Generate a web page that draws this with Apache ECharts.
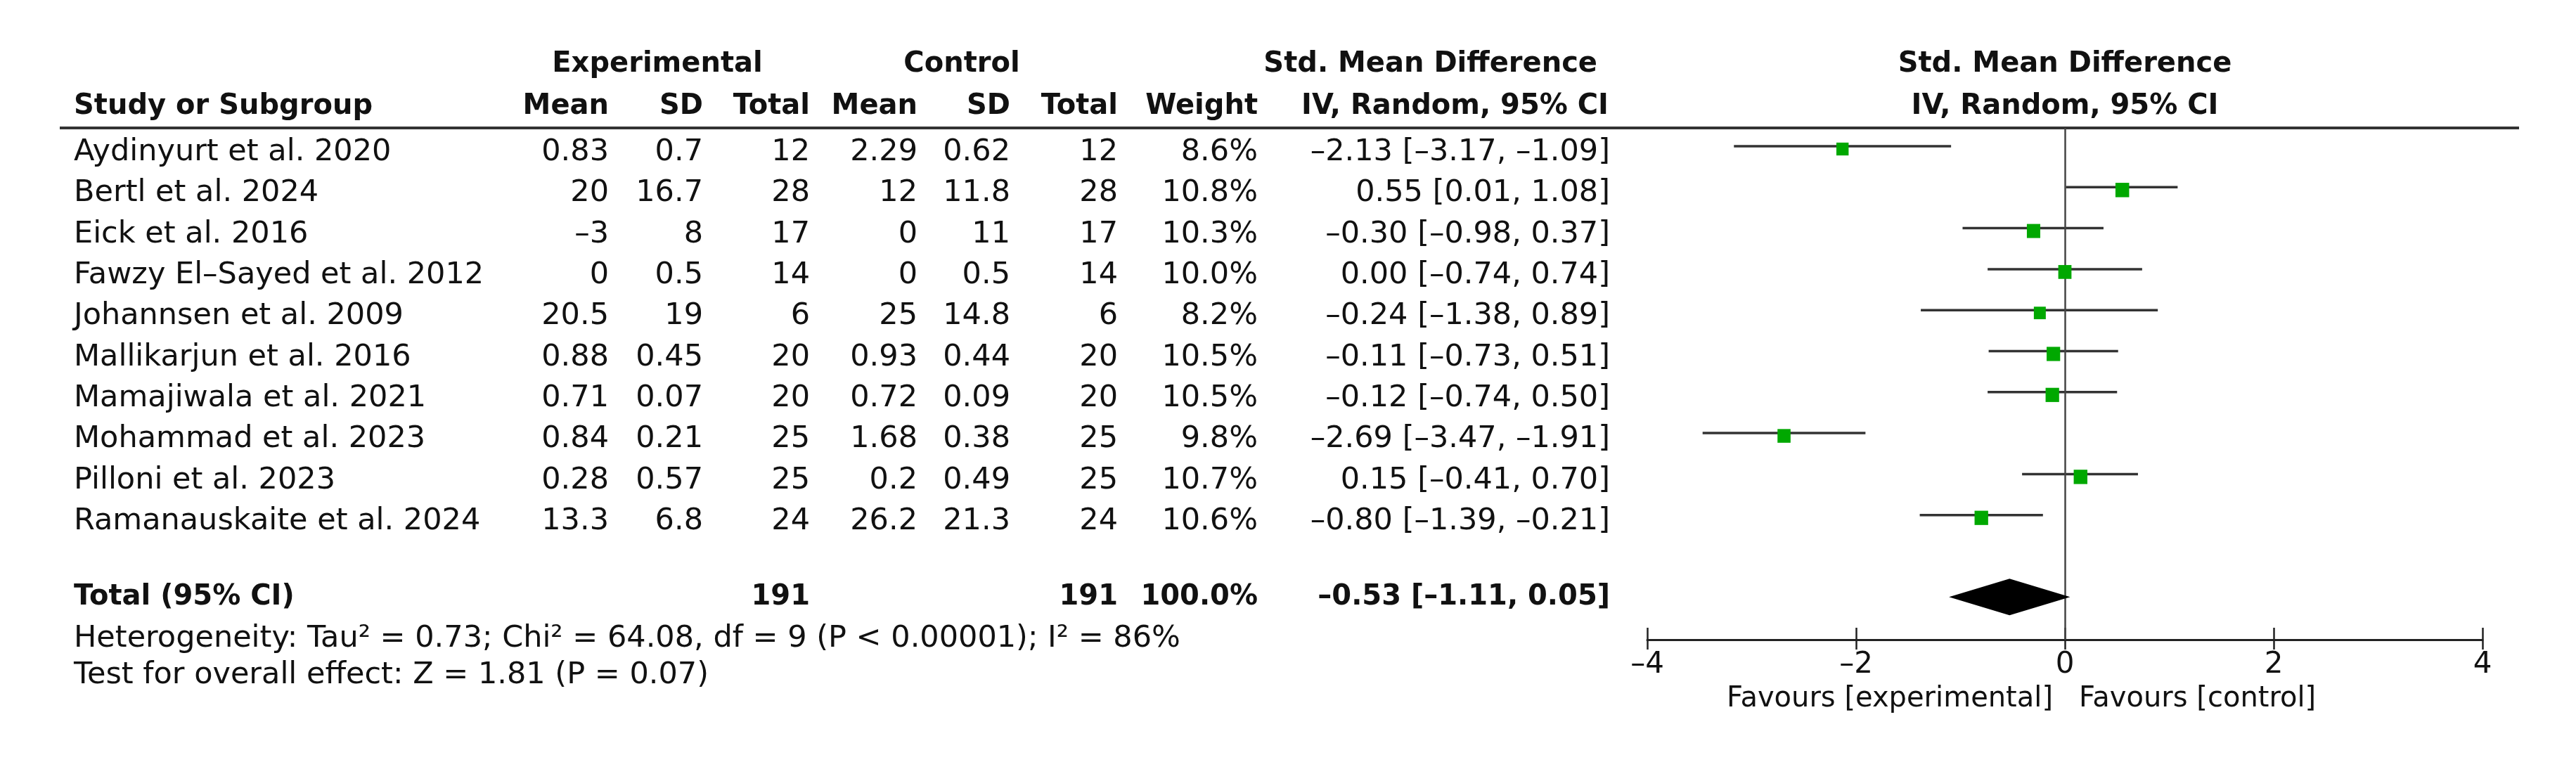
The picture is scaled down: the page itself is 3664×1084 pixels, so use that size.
<!DOCTYPE html>
<html><head><meta charset="utf-8">
<script src="https://cdn.jsdelivr.net/npm/echarts@6/dist/echarts.min.js"></script>
<style>html,body{margin:0;padding:0;background:#ffffff}#c{width:3664px;height:1084px}</style>
</head><body><div id="c"></div>
<script>
// ---------------- data ----------------
const studies = [
  'Aydinyurt et al. 2020', 'Bertl et al. 2024', 'Eick et al. 2016',
  'Fawzy El–Sayed et al. 2012', 'Johannsen et al. 2009', 'Mallikarjun et al. 2016',
  'Mamajiwala et al. 2021', 'Mohammad et al. 2023', 'Pilloni et al. 2023',
  'Ramanauskaite et al. 2024'
];
const expMean  = [0.83, 20, -3, 0, 20.5, 0.88, 0.71, 0.84, 0.28, 13.3];
const expSD    = [0.7, 16.7, 8, 0.5, 19, 0.45, 0.07, 0.21, 0.57, 6.8];
const expTotal = [12, 28, 17, 14, 6, 20, 20, 25, 25, 24];
const ctrlMean = [2.29, 12, 0, 0, 25, 0.93, 0.72, 1.68, 0.2, 26.2];
const ctrlSD   = [0.62, 11.8, 11, 0.5, 14.8, 0.44, 0.09, 0.38, 0.49, 21.3];
const ctrlTotal= [12, 28, 17, 14, 6, 20, 20, 25, 25, 24];
const weight   = [8.6, 10.8, 10.3, 10.0, 8.2, 10.5, 10.5, 9.8, 10.7, 10.6];
const smd      = [-2.13, 0.55, -0.30, 0.00, -0.24, -0.11, -0.12, -2.69, 0.15, -0.80];
const ciLow    = [-3.17, 0.01, -0.98, -0.74, -1.38, -0.73, -0.74, -3.47, -0.41, -1.39];
const ciHigh   = [-1.09, 1.08, 0.37, 0.74, 0.89, 0.51, 0.50, -1.91, 0.70, -0.21];
const totalExp = 191;
const totalCtrl = 191;
const totalWeight = 100.0;
const pooledEst = -0.53;
const pooledLow = -1.11;
const pooledHigh = 0.05;
const tau2 = 0.73;
const chi2 = 64.08;
const hetDf = 9;
const hetP = '< 0.00001';
const i2 = 86;
const zValue = 1.81;
const pValue = 0.07;
const xTicks = [-4, -2, 0, 2, 4];

// ---------------- layout ----------------
const FONT = '"DejaVu Sans"';
const REG = '43px ' + FONT;
const BOLD = 'bold 40px ' + FONT;
const TXT = '#111111';
const PLOT_LEFT = 2343, PLOT_W = 1188, PLOT_TOP = 182, PLOT_H = 728;
const ROW0 = 208, ROWH = 58.3;            // pixel of row 0 and row spacing
const TOTAL_ROW = 11;
const TEXT_DY = 9;
const COL = { name: 105, eMean: 866, eSD: 1000, eTot: 1152, cMean: 1305, cSD: 1437, cTot: 1590, wt: 1789, ci: 2290 };
const ZERO_X = 2937;

const fmtNum = v => String(v).replace(/-/g, '–');
const fmt2 = v => v.toFixed(2).replace(/-/g, '–');
const fmtCI = (e, l, h) => fmt2(e) + ' [' + fmt2(l) + ', ' + fmt2(h) + ']';

const chart = echarts.init(document.getElementById('c'), null, { renderer: 'canvas' });

const tableData = studies.map((s, i) => [0, i]).concat([[0, TOTAL_ROW]]);

function renderTable(params, api) {
  const idx = params.dataIndex;
  const isTotal = idx === studies.length;
  const cy = api.coord([0, api.value(1)])[1] + (isTotal ? 0 : TEXT_DY);
  let cells;
  if (isTotal) {
    cells = [
      ['Total (95% CI)', COL.name, 'left'],
      [String(totalExp), COL.eTot, 'right'],
      [String(totalCtrl), COL.cTot, 'right'],
      [totalWeight.toFixed(1) + '%', COL.wt, 'right'],
      [fmtCI(pooledEst, pooledLow, pooledHigh), COL.ci, 'right']
    ];
  } else {
    cells = [
      [studies[idx], COL.name, 'left'],
      [fmtNum(expMean[idx]), COL.eMean, 'right'],
      [fmtNum(expSD[idx]), COL.eSD, 'right'],
      [String(expTotal[idx]), COL.eTot, 'right'],
      [fmtNum(ctrlMean[idx]), COL.cMean, 'right'],
      [fmtNum(ctrlSD[idx]), COL.cSD, 'right'],
      [String(ctrlTotal[idx]), COL.cTot, 'right'],
      [weight[idx].toFixed(1) + '%', COL.wt, 'right'],
      [fmtCI(smd[idx], ciLow[idx], ciHigh[idx]), COL.ci, 'right']
    ];
  }
  return {
    type: 'group',
    children: cells.map(c => ({
      type: 'text',
      style: { text: c[0], x: c[1], y: cy, align: c[2], verticalAlign: 'middle', fill: TXT, font: isTotal ? BOLD : REG }
    }))
  };
}

function renderCI(params, api) {
  const p1 = api.coord([api.value(0), api.value(2)]);
  const p2 = api.coord([api.value(1), api.value(2)]);
  return { type: 'line', shape: { x1: p1[0], y1: p1[1], x2: p2[0], y2: p2[1] }, style: { stroke: '#333333', lineWidth: 3.5 } };
}

function renderDiamond(params, api) {
  const r = api.value(3);
  const pl = api.coord([api.value(0), r]);
  const pe = api.coord([api.value(1), r]);
  const ph = api.coord([api.value(2), r]);
  const hh = 26;
  return { type: 'polygon', shape: { points: [[pl[0], pl[1]], [pe[0], pe[1] - hh], [ph[0], ph[1]], [pe[0], pe[1] + hh]] }, style: { fill: '#000000' } };
}

const hdr1Y = 92, hdr2Y = 152;
const graphics = [
  { type: 'line', shape: { x1: 85, y1: PLOT_TOP, x2: 3583, y2: PLOT_TOP }, style: { stroke: '#333333', lineWidth: 4 } },
  { type: 'text', style: { text: 'Experimental', x: 935, y: hdr1Y, align: 'center', verticalAlign: 'middle', font: BOLD, fill: TXT } },
  { type: 'text', style: { text: 'Control', x: 1368, y: hdr1Y, align: 'center', verticalAlign: 'middle', font: BOLD, fill: TXT } },
  { type: 'text', style: { text: 'Std. Mean Difference', x: 2272, y: hdr1Y, align: 'right', verticalAlign: 'middle', font: BOLD, fill: TXT } },
  { type: 'text', style: { text: 'Std. Mean Difference', x: ZERO_X, y: hdr1Y, align: 'center', verticalAlign: 'middle', font: BOLD, fill: TXT } },
  { type: 'text', style: { text: 'Study or Subgroup', x: COL.name, y: hdr2Y, align: 'left', verticalAlign: 'middle', font: BOLD, fill: TXT } },
  { type: 'text', style: { text: 'Mean', x: COL.eMean, y: hdr2Y, align: 'right', verticalAlign: 'middle', font: BOLD, fill: TXT } },
  { type: 'text', style: { text: 'SD', x: COL.eSD, y: hdr2Y, align: 'right', verticalAlign: 'middle', font: BOLD, fill: TXT } },
  { type: 'text', style: { text: 'Total', x: COL.eTot, y: hdr2Y, align: 'right', verticalAlign: 'middle', font: BOLD, fill: TXT } },
  { type: 'text', style: { text: 'Mean', x: COL.cMean, y: hdr2Y, align: 'right', verticalAlign: 'middle', font: BOLD, fill: TXT } },
  { type: 'text', style: { text: 'SD', x: COL.cSD, y: hdr2Y, align: 'right', verticalAlign: 'middle', font: BOLD, fill: TXT } },
  { type: 'text', style: { text: 'Total', x: COL.cTot, y: hdr2Y, align: 'right', verticalAlign: 'middle', font: BOLD, fill: TXT } },
  { type: 'text', style: { text: 'Weight', x: COL.wt, y: hdr2Y, align: 'right', verticalAlign: 'middle', font: BOLD, fill: TXT } },
  { type: 'text', style: { text: 'IV, Random, 95% CI', x: COL.ci - 2, y: hdr2Y, align: 'right', verticalAlign: 'middle', font: BOLD, fill: TXT } },
  { type: 'text', style: { text: 'IV, Random, 95% CI', x: ZERO_X, y: hdr2Y, align: 'center', verticalAlign: 'middle', font: BOLD, fill: TXT } },
  { type: 'text', style: { text: 'Heterogeneity: Tau² = ' + tau2.toFixed(2) + '; Chi² = ' + chi2.toFixed(2) + ', df = ' + hetDf + ' (P ' + hetP + '); I² = ' + i2 + '%', x: COL.name, y: 909, align: 'left', verticalAlign: 'middle', font: REG, fill: TXT } },
  { type: 'text', style: { text: 'Test for overall effect: Z = ' + zValue.toFixed(2) + ' (P = ' + pValue.toFixed(2) + ')', x: COL.name, y: 961, align: 'left', verticalAlign: 'middle', font: REG, fill: TXT } },
  { type: 'text', style: { text: 'Favours [experimental]', x: ZERO_X - 17, y: 995, align: 'right', verticalAlign: 'middle', font: '40px ' + FONT, fill: TXT } },
  { type: 'text', style: { text: 'Favours [control]', x: ZERO_X + 20, y: 995, align: 'left', verticalAlign: 'middle', font: '40px ' + FONT, fill: TXT } }
];

const xCommon = { type: 'value', min: xTicks[0], max: xTicks[xTicks.length - 1], interval: 2, gridIndex: 0, splitLine: { show: false } };

const option = {
  animation: false,
  backgroundColor: '#ffffff',
  grid: [{ left: PLOT_LEFT, width: PLOT_W, top: PLOT_TOP, height: PLOT_H, containLabel: false }],
  xAxis: [
    Object.assign({}, xCommon, {
      position: 'bottom',
      axisLine: { show: true, onZero: false, lineStyle: { color: '#222222', width: 3 } },
      axisTick: { show: true, inside: false, length: 14, lineStyle: { color: '#222222', width: 2.5 } },
      axisLabel: { show: true, margin: 15, fontSize: 42, fontFamily: 'DejaVu Sans', color: TXT, formatter: v => fmtNum(v) }
    }),
    Object.assign({}, xCommon, {
      position: 'top', offset: -PLOT_H,
      axisLine: { show: false, onZero: false },
      axisTick: { show: true, inside: false, length: 17, lineStyle: { color: '#222222', width: 2.5 } },
      axisLabel: { show: false }
    })
  ],
  yAxis: [{
    type: 'value', gridIndex: 0, inverse: true,
    min: (PLOT_TOP - ROW0) / ROWH, max: (PLOT_TOP + PLOT_H - ROW0) / ROWH,
    show: false
  }],
  series: [
    {
      type: 'custom', name: 'table', xAxisIndex: 0, yAxisIndex: 0,
      renderItem: renderTable, data: tableData, silent: true, clip: false
    },
    {
      type: 'custom', name: 'ci', xAxisIndex: 0, yAxisIndex: 0,
      renderItem: renderCI, encode: { x: [0, 1], y: 2 },
      data: studies.map((s, i) => [ciLow[i], ciHigh[i], i]), silent: true
    },
    {
      type: 'scatter', name: 'smd', xAxisIndex: 0, yAxisIndex: 0,
      symbol: 'rect',
      symbolSize: v => { const s = 19.5 * Math.sqrt(v[2] / 10.8); return [s, s * 1.05]; },
      symbolOffset: [0, 4],
      itemStyle: { color: '#00a800', opacity: 1 },
      data: studies.map((s, i) => [smd[i], i, weight[i]]),
      silent: true, z: 5,
      markLine: {
        silent: true, symbol: ['none', 'none'], animation: false,
        label: { show: false },
        lineStyle: { color: '#444444', width: 2.5, type: 'solid' },
        data: [{ xAxis: 0 }]
      }
    },
    {
      type: 'custom', name: 'pooled', xAxisIndex: 0, yAxisIndex: 0,
      renderItem: renderDiamond, encode: { x: [0, 1, 2], y: 3 },
      data: [[pooledLow, pooledEst, pooledHigh, TOTAL_ROW]], silent: true, z: 6
    }
  ],
  graphic: graphics
};
chart.setOption(option);
</script>
</body></html>
